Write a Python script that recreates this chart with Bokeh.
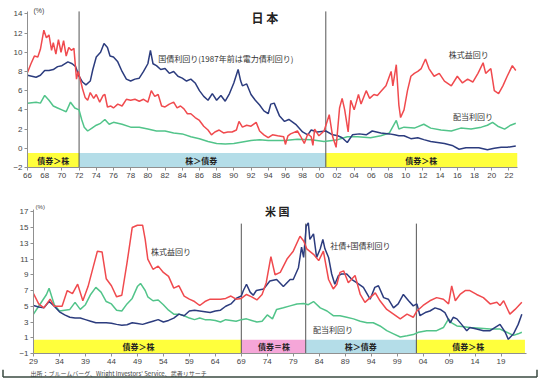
from bokeh.plotting import figure
from bokeh.models import FixedTicker, Label, ColumnDataSource, BoxAnnotation, Range1d
from bokeh.core.properties import value
from bokeh.embed import file_html
from bokeh.resources import INLINE

# ---------------- Japan ----------------
jp_red_x = [1966.0, 1966.4, 1966.8, 1967.2, 1967.5, 1967.9, 1968.2, 1968.5, 1968.8, 1969.0, 1969.3, 1969.6, 1969.9,
            1970.2, 1970.5, 1970.8, 1971.1, 1971.4, 1971.7, 1971.9, 1972.1, 1972.4, 1972.7, 1973.0, 1973.3, 1973.7,
            1974.0, 1974.4, 1974.8, 1975.0, 1975.3, 1975.7, 1976.0, 1976.5, 1977.0, 1977.5, 1978.0, 1978.5, 1979.0,
            1979.5, 1980.0, 1980.4, 1980.8, 1981.2, 1981.6, 1982.0, 1982.5, 1983.0, 1983.4, 1983.8, 1984.2, 1984.6,
            1985.0, 1985.5, 1986.0, 1986.5, 1987.0, 1987.4, 1987.8, 1988.3, 1988.8, 1989.3, 1989.8, 1990.3, 1990.6,
            1991.0, 1991.5, 1992.0, 1992.6, 1993.0, 1993.5, 1994.0, 1994.5, 1995.1, 1995.8, 1996.0, 1996.3, 1996.6,
            1997.4, 1997.8, 1998.2, 1998.6, 1999.0, 1999.2, 1999.4, 1999.9, 2000.5, 2001.1, 2001.5, 2001.9, 2002.3,
            2002.6, 2002.9, 2003.3, 2003.6, 2004.0, 2004.5, 2004.8, 2005.4, 2005.8, 2006.3, 2006.7, 2007.1, 2007.7,
            2008.3, 2008.5, 2008.9, 2009.2, 2009.4, 2009.8, 2010.2, 2010.6, 2011.0, 2011.4, 2011.8, 2012.3, 2012.7,
            2013.3, 2013.9, 2014.5, 2015.3, 2016.0, 2016.6, 2017.2, 2017.8, 2018.4, 2019.0, 2019.3, 2019.9, 2020.3,
            2020.8, 2021.3, 2021.8, 2022.4, 2022.8]
jp_red = [7.9, 8.8, 9.6, 9.5, 10.3, 12.3, 11.5, 11.8, 10.2, 11.0, 9.8, 11.3, 10.0,
          11.2, 9.6, 10.5, 10.2, 10.4, 7.2, 8.0, 7.3, 6.2, 5.3, 5.0, 5.8, 5.2,
          5.6, 4.8, 5.5, 5.6, 4.3, 4.4, 4.2, 4.6, 4.4, 5.1, 5.0, 5.1, 4.9,
          5.1, 4.8, 6.0, 5.4, 5.6, 4.4, 4.3, 4.6, 4.8, 4.2, 4.4, 4.1, 3.6,
          3.6, 3.2, 2.9, 2.3, 1.9, 1.4, 1.7, 1.9, 1.6, 1.7, 1.7, 1.9, 2.8,
          2.2, 2.4, 2.3, 2.7, 1.8, 1.4, 1.1, 1.4, 1.3, 1.2, 0.4, 1.3, 1.5,
          1.8, 1.2, 0.5, 1.5, 1.2, 0.3, 2.0, 1.3, 1.8, 3.5, 1.2, 0.1, 4.2,
          5.2, 4.0, 1.7, 5.0, 4.0, 5.6, 4.6, 6.0, 5.2, 5.6, 5.5, 5.9, 6.5,
          8.0, 6.5, 8.7, 4.5, 3.2, 4.0, 6.0, 7.5, 7.8, 8.0, 8.3, 9.3, 8.3,
          7.5, 7.8, 7.0, 6.5, 7.5, 6.8, 7.2, 6.9, 7.8, 8.9, 7.8, 8.3, 6.0,
          5.7, 6.5, 7.5, 8.6, 8.1]

jp_navy_x = [1966.0, 1966.5, 1967.0, 1967.5, 1968.0, 1968.5, 1969.0, 1969.5, 1970.0, 1970.7, 1971.2, 1971.6, 1972.0,
             1972.4, 1972.8, 1973.3, 1973.6, 1974.0, 1974.5, 1974.9, 1975.3, 1975.6, 1976.0, 1976.5, 1977.0, 1977.5,
             1978.0, 1978.5, 1979.0, 1979.5, 1980.0, 1980.3, 1980.6, 1981.0, 1981.5, 1982.0, 1982.5, 1983.0, 1983.5,
             1984.0, 1984.5, 1985.0, 1985.5, 1986.0, 1986.5, 1987.0, 1987.5, 1988.0, 1988.5, 1989.0, 1989.5, 1990.0,
             1990.5, 1990.8, 1991.0, 1991.5, 1992.0, 1992.5, 1993.0, 1993.5, 1994.0, 1994.3, 1994.7, 1995.3, 1995.9,
             1996.4, 1997.2, 1998.0, 1998.6, 1999.0, 1999.7, 2000.7, 2001.5, 2002.1, 2002.6, 2003.2, 2003.8, 2004.6,
             2005.4, 2006.1, 2007.1, 2008.1, 2008.7, 2009.2, 2009.8, 2010.6, 2011.4, 2012.1, 2012.9, 2013.7, 2014.5,
             2015.4, 2016.2, 2017.0, 2017.8, 2018.5, 2019.5, 2020.3, 2021.1, 2021.8, 2022.8]
jp_navy = [7.6, 7.5, 7.4, 7.6, 8.1, 8.1, 8.2, 8.5, 8.6, 9.0, 8.8, 8.5, 7.5,
           6.9, 6.6, 7.0, 8.2, 9.5, 10.0, 10.9, 10.5, 9.6, 9.5, 9.0, 8.0, 7.2,
           7.0, 7.2, 7.3, 8.0, 8.8, 10.2, 8.8, 8.6, 8.2, 8.3, 7.8, 8.0, 7.5,
           7.3, 7.0, 7.2, 6.8, 6.0, 5.4, 5.0, 5.7, 5.0, 5.5, 4.9, 5.7, 6.8,
           8.2, 7.0, 6.5, 6.7, 5.6, 5.0, 4.5, 3.9, 3.6, 4.6, 4.7, 3.4, 2.8,
           3.0, 2.5, 1.7, 1.4, 1.9, 1.7, 1.8, 1.4, 1.3, 1.1, 0.6, 1.4, 1.5,
           1.4, 1.8, 1.6, 1.5, 1.4, 1.3, 1.3, 1.0, 1.1, 0.9, 0.7, 0.6, 0.5,
           0.3, -0.1, 0.05, 0.05, 0.05, -0.15, 0.0, 0.1, 0.1, 0.25]

jp_green_x = [1966.0, 1967.0, 1967.5, 1968.0, 1968.5, 1969.0, 1969.5, 1970.0, 1970.5, 1971.0, 1971.5, 1972.0, 1972.3,
              1972.6, 1973.0, 1973.5, 1974.0, 1974.5, 1975.0, 1975.5, 1976.0, 1977.0, 1978.0, 1979.0, 1980.0, 1981.0,
              1982.0, 1983.0, 1984.0, 1985.0, 1986.0, 1987.0, 1988.0, 1989.0, 1990.0, 1991.0, 1992.0, 1993.0, 1994.0,
              1995.9, 1997.4, 1999.0, 2000.5, 2002.1, 2003.2, 2004.4, 2005.9, 2007.1, 2008.1, 2008.9, 2009.2, 2009.8,
              2011.0, 2012.1, 2012.9, 2014.1, 2015.3, 2016.4, 2017.6, 2018.8, 2019.5, 2020.1, 2020.7, 2021.5, 2022.2,
              2022.8]
jp_green = [4.7, 4.8, 4.7, 5.5, 5.0, 4.4, 4.2, 4.0, 3.8, 4.8, 4.2, 4.0, 3.0,
            2.2, 1.8, 2.1, 2.4, 2.6, 3.0, 2.5, 2.7, 2.5, 2.2, 2.2, 2.0, 1.8,
            1.8, 1.6, 1.5, 1.2, 1.0, 0.7, 0.5, 0.45, 0.5, 0.65, 0.8, 0.9, 0.8,
            0.8, 0.95, 0.9, 0.7, 0.9, 1.2, 1.2, 1.1, 1.3, 1.6, 2.9, 2.0, 2.2,
            2.1, 2.5, 2.1, 1.9, 1.8, 2.1, 2.0, 2.2, 2.4, 2.7, 2.3, 2.0, 2.4,
            2.6]

jp_band_start = [1966.0, 1972.0, 2000.7]
jp_band_end = [1972.0, 2000.7, 2023.0]
jp_band_color = ["#ffff3c", "#b4dde8", "#ffff3c"]
jp_band_text = ["債券＞株", "株＞債券", "債券＞株"]
jp_band_text_x = [1969.0, 1986.2, 2011.8]
jp_dividers = [1972.0, 2000.7]

jp_xticks = list(range(1966, 2023, 2))
jp_xtick_labels = ["66", "68", "70", "72", "74", "76", "78", "80", "82", "84", "86", "88", "90", "92", "94",
                   "96", "98", "00", "02", "04", "06", "08", "10", "12", "14", "16", "18", "20", "22"]
jp_yticks = [-2, 0, 2, 4, 6, 8, 10, 12, 14]

# ---------------- United States ----------------
us_red_x = [1929.0, 1930.0, 1931.0, 1932.2, 1933.0, 1934.5, 1935.5, 1936.5, 1937.5, 1938.5, 1939.5, 1940.5, 1941.3,
            1942.2, 1943.0, 1944.0, 1945.0, 1946.0, 1947.0, 1948.0, 1949.0, 1950.0, 1950.5, 1951.0, 1952.0, 1953.0,
            1954.0, 1955.0, 1956.0, 1957.0, 1958.0, 1959.0, 1960.0, 1961.0, 1962.0, 1963.0, 1964.0, 1965.0, 1966.0,
            1967.0, 1968.0, 1969.0, 1970.0, 1971.0, 1972.0, 1973.0, 1973.8, 1974.7, 1975.5, 1976.5, 1977.8, 1979.0,
            1980.3, 1981.0, 1981.6, 1982.9, 1983.9, 1984.8, 1985.8, 1986.7, 1987.4, 1988.0, 1988.7, 1989.6, 1990.9,
            1991.9, 1992.8, 1993.8, 1994.8, 1995.7, 1997.0, 1998.3, 1999.6, 2000.9, 2002.1, 2002.8, 2004.0, 2005.3,
            2006.6, 2007.9, 2008.9, 2009.5, 2010.2, 2011.1, 2012.1, 2013.0, 2014.3, 2015.6, 2016.9, 2018.2, 2018.8,
            2019.5, 2020.7, 2021.7, 2023.0]
us_red = [6.6, 5.3, 4.8, 5.9, 5.0, 5.0, 7.0, 6.6, 7.8, 5.7, 7.5, 10.0, 12.0,
          11.9, 8.5, 7.6, 6.2, 6.4, 10.5, 15.0, 15.3, 15.3, 13.5, 11.0, 9.7, 10.1,
          9.3, 8.8, 7.3, 7.6, 6.3, 5.9, 5.6, 5.1, 5.6, 5.9, 5.9, 5.9, 6.0,
          6.3, 5.9, 6.0, 6.5, 6.2, 5.8, 6.5, 8.0, 11.3, 9.0, 9.3, 11.0, 12.0,
          13.9, 13.3, 12.3, 11.6, 10.8, 12.0, 8.4, 7.2, 7.8, 9.3, 9.5, 8.0, 8.9,
          6.5, 5.5, 6.1, 6.7, 5.7, 4.6, 4.0, 3.4, 4.0, 3.6, 4.4, 5.1, 5.7,
          6.1, 5.9, 5.3, 7.6, 5.7, 6.5, 7.0, 7.0, 6.5, 6.1, 5.3, 5.5, 5.1,
          5.7, 4.0, 4.6, 5.5]

us_navy_x = [1929.0, 1930.0, 1931.0, 1932.0, 1933.0, 1934.0, 1935.0, 1936.0, 1937.0, 1938.0, 1939.0, 1940.0, 1941.0,
             1942.0, 1943.0, 1944.0, 1945.0, 1946.0, 1947.0, 1948.0, 1949.0, 1950.0, 1951.0, 1952.0, 1953.0, 1954.0,
             1955.0, 1956.0, 1957.0, 1958.0, 1959.0, 1960.0, 1961.0, 1962.0, 1963.0, 1964.0, 1965.0, 1966.0, 1967.0,
             1968.0, 1969.0, 1969.4, 1970.0, 1970.7, 1971.3, 1971.9, 1973.3, 1974.5, 1975.8, 1977.1, 1978.4, 1979.0,
             1980.0, 1980.6, 1981.0, 1981.5, 1981.9, 1982.2, 1982.9, 1983.5, 1984.2, 1984.7, 1985.1, 1985.8, 1986.4,
             1987.0, 1987.7, 1988.3, 1989.3, 1990.3, 1991.2, 1992.5, 1993.8, 1994.7, 1995.4, 1996.4, 1997.3, 1998.3,
             1999.2, 2000.2, 2001.2, 2002.1, 2002.8, 2003.4, 2004.4, 2005.3, 2006.3, 2007.3, 2008.2, 2009.2, 2009.8,
             2010.5, 2011.4, 2012.4, 2013.0, 2014.3, 2015.6, 2016.9, 2017.8, 2018.8, 2019.8, 2020.4, 2021.4, 2022.3,
             2023.0]
us_navy = [5.1, 4.9, 4.8, 5.6, 5.0, 4.3, 3.9, 3.6, 3.5, 3.5, 3.3, 3.1, 2.9,
           2.9, 2.9, 2.85, 2.7, 2.6, 2.65, 2.9, 2.8, 2.7, 2.9, 3.1, 3.3, 3.0,
           3.2, 3.5, 4.0, 3.8, 4.4, 4.5, 4.4, 4.3, 4.2, 4.4, 4.5, 5.0, 5.3,
           6.0, 6.3, 7.0, 7.8, 6.8, 6.4, 7.0, 7.2, 8.2, 8.4, 7.5, 8.4, 8.4,
           9.9, 12.5, 11.2, 15.2, 15.6, 13.5, 14.2, 11.2, 12.3, 13.5, 12.3, 11.2, 9.1,
           7.8, 8.9, 9.1, 9.1, 8.4, 8.0, 7.4, 5.9, 7.4, 7.6, 6.1, 5.9, 4.8,
           5.3, 6.5, 5.7, 5.05, 5.3, 3.8, 4.2, 4.4, 4.8, 4.6, 4.2, 2.9, 3.6,
           3.4, 2.7, 1.9, 2.3, 2.1, 1.9, 1.9, 2.3, 2.7, 1.7, 0.8, 1.5, 2.7,
           4.0]

us_green_x = [1929.0, 1930.0, 1931.5, 1932.0, 1933.0, 1934.0, 1935.0, 1936.0, 1937.0, 1938.0, 1939.0, 1940.0, 1941.0,
              1942.0, 1943.0, 1944.0, 1945.0, 1946.0, 1947.0, 1948.0, 1949.0, 1949.6, 1950.5, 1951.0, 1952.0, 1953.0,
              1954.0, 1955.0, 1956.0, 1957.0, 1958.0, 1959.0, 1960.0, 1961.0, 1962.0, 1963.0, 1964.0, 1965.0, 1966.0,
              1967.0, 1968.0, 1969.0, 1970.0, 1971.0, 1972.0, 1973.0, 1974.0, 1975.0, 1975.8, 1977.1, 1978.4, 1979.7,
              1981.0, 1981.9, 1982.9, 1984.2, 1985.5, 1986.7, 1988.0, 1989.3, 1990.6, 1991.9, 1993.2, 1994.4, 1995.7,
              1997.0, 1998.3, 1999.6, 2000.9, 2002.1, 2003.1, 2004.7, 2006.6, 2007.9, 2008.9, 2009.5, 2010.5, 2011.8,
              2013.0, 2015.0, 2016.9, 2018.8, 2020.1, 2021.4, 2022.3, 2023.0]
us_green = [4.0, 5.0, 6.5, 7.3, 5.2, 4.4, 4.5, 4.6, 5.5, 4.6, 5.2, 6.5, 7.4,
            6.8, 5.6, 5.3, 4.5, 4.4, 5.3, 6.0, 7.5, 7.9, 7.0, 6.2, 5.7, 5.8,
            5.2, 4.5, 4.0, 4.0, 3.8, 3.5, 3.3, 3.5, 3.3, 3.3, 3.2, 3.0, 3.3,
            3.2, 3.1, 3.3, 3.4, 3.2, 3.0, 3.1, 3.9, 3.4, 4.6, 4.8, 5.05, 5.3,
            5.35, 5.2, 5.6, 4.8, 4.4, 3.8, 3.8, 3.6, 3.4, 3.1, 2.9, 2.9, 2.5,
            1.9, 1.5, 1.1, 1.25, 1.4, 1.7, 1.9, 1.9, 2.3, 3.4, 2.9, 2.5, 2.4,
            2.3, 2.2, 2.1, 2.1, 1.7, 1.3, 1.5, 1.7]

us_band_start = [1929.0, 1969.0, 1981.4, 2002.7]
us_band_end = [1969.0, 1981.4, 2002.7, 2023.6]
us_band_color = ["#ffff3c", "#f5a6d8", "#b4dde8", "#ffff3c"]
us_band_text = ["債券＞株", "債券＝株", "株＞債券", "債券＞株"]
us_band_text_x = [1949.2, 1975.3, 1992.0, 2012.7]
us_dividers = [1969.0, 1981.4, 2002.7]

us_xticks = list(range(1929, 2020, 5))
us_xtick_labels = ["29", "34", "39", "44", "49", "54", "59", "64", "69", "74", "79", "84", "89", "94", "99",
                   "04", "09", "14", "19"]
us_yticks = [-1, 1, 3, 5, 7, 9, 11, 13, 15, 17]

source_text = ["出所：ブルームバーグ、Wright Investors' Service、武者リサーチ"]

RED = "#f04a4e"
NAVY = "#2c3c7e"
GREEN = "#52c48a"
JPFONT = "Noto Sans CJK JP"
NUMFONT = "Liberation Sans"
FRAME = "#3a4a40"


def style(p, xticks, xlabels, yticks, ybounds):
    p.outline_line_color = None
    p.xgrid.visible = False
    p.ygrid.visible = False
    p.background_fill_color = "white"
    p.border_fill_color = "white"
    p.xaxis.ticker = FixedTicker(ticks=xticks)
    p.xaxis.major_label_overrides = {t: l for t, l in zip(xticks, xlabels)}
    p.yaxis.ticker = FixedTicker(ticks=yticks)
    p.yaxis.bounds = ybounds
    for ax in (p.xaxis, p.yaxis):
        ax.axis_line_color = "#909090"
        ax.major_tick_line_color = "#909090"
        ax.major_tick_out = 3
        ax.major_tick_in = 0
        ax.minor_tick_line_color = None
        ax.major_label_text_font = NUMFONT
        ax.major_label_text_font_size = "8px"
        ax.major_label_text_color = "#444444"
        ax.major_label_standoff = 2


def add_bands(p, starts, ends, colors, texts, text_x, y0, y1):
    src = ColumnDataSource(dict(left=starts, right=ends, color=colors))
    p.quad(left="left", right="right", bottom=y0, top=y1, fill_color="color", line_color=None, source=src)
    tsrc = ColumnDataSource(dict(x=text_x, y=[(y0 + y1) / 2] * len(text_x), t=texts))
    p.text(x="x", y="y", text="t", source=tsrc, text_font=value(JPFONT), text_font_size="8px",
           text_font_style="bold", text_color="#222222", text_align="center", text_baseline="middle")


def add_dividers(p, xs, y0, y1):
    p.segment(x0=xs, x1=xs, y0=[y0] * len(xs), y1=[y1] * len(xs), line_color="#555555", line_width=1)


def label(p, x, y, text, size="8px", bold=False, align="left", font=JPFONT, color="#333333"):
    p.add_layout(Label(x=x, y=y, text=text, text_font=font, text_font_size=size,
                       text_font_style="bold" if bold else "normal", text_color=color,
                       text_align=align, text_baseline="middle"))


def frame_box(p, left, right, top, bottom, **kw):
    p.add_layout(BoxAnnotation(left=left, right=right, top=top, bottom=bottom, left_units="canvas",
                               right_units="canvas", top_units="canvas", bottom_units="canvas", **kw))


# ---- top figure (Japan)
p1 = figure(width=540, height=190, x_range=(1966, 2023), y_range=(-2, 14.865),
            output_backend="svg", toolbar_location=None,
            min_border_left=27, min_border_right=23, min_border_top=5, min_border_bottom=23)
style(p1, jp_xticks, jp_xtick_labels, jp_yticks, (-2, 14.2))
add_bands(p1, jp_band_start, jp_band_end, jp_band_color, jp_band_text, jp_band_text_x, -2, -0.5)
add_dividers(p1, jp_dividers, -2, 14.25)
p1.line(jp_green_x, jp_green, line_color=GREEN, line_width=1.5)
p1.line(jp_navy_x, jp_navy, line_color=NAVY, line_width=1.5)
p1.line(jp_red_x, jp_red, line_color=RED, line_width=1.5)
label(p1, 1993.6, 13.6, "日 本", size="12px", bold=True, align="center", color="#222222")
label(p1, 1966.7, 14.34, "(%)", size="7px", font=NUMFONT, color="#444444")
label(p1, 1981.2, 9.35, "国債利回り(1987年前は電力債利回り)")
label(p1, 2015.0, 9.75, "株式益回り")
label(p1, 2015.5, 3.3, "配当利回り")
frame_box(p1, 0, 540, 0, 2.5, fill_color="#2c5a3c", fill_alpha=1, line_color=None)
frame_box(p1, 2.5, 536.5, 2, 400, fill_alpha=0, line_color=FRAME, line_width=1.5)

# ---- bottom figure (US)
p2 = figure(width=540, height=179, x_range=(1929, 2023.9), y_range=(-1, 18.31),
            output_backend="svg", toolbar_location=None,
            min_border_left=33, min_border_right=14, min_border_top=11, min_border_bottom=16)
style(p2, us_xticks, us_xtick_labels, us_yticks, (-1, 17.3))
add_bands(p2, us_band_start, us_band_end, us_band_color, us_band_text, us_band_text_x, -1, 0.75)
add_dividers(p2, us_dividers, -1, 15.5)
p2.line(us_green_x, us_green, line_color=GREEN, line_width=1.5)
p2.line(us_navy_x, us_navy, line_color=NAVY, line_width=1.5)
p2.line(us_red_x, us_red, line_color=RED, line_width=1.5)
label(p2, 1975.9, 17.13, "米 国", size="11px", bold=True, align="center", color="#222222")
label(p2, 1929.4, 17.67, "(%)", size="6px", font=NUMFONT, color="#444444")
label(p2, 1951.6, 12.0, "株式益回り")
label(p2, 1986.1, 12.7, "社債+国債利回り")
label(p2, 1982.8, 2.1, "配当利回り")
frame_box(p2, 2.5, 536.5, -20, 400, fill_alpha=0, line_color=FRAME, line_width=1.5)

# ---- source strip
p3 = figure(width=540, height=15, x_range=Range1d(0, 540), y_range=Range1d(15, 0),
            x_axis_type=None, y_axis_type=None, output_backend="svg", toolbar_location=None,
            min_border_left=0, min_border_right=0, min_border_top=0, min_border_bottom=0)
p3.outline_line_color = None
p3.xgrid.visible = False
p3.ygrid.visible = False
p3.background_fill_color = "white"
p3.border_fill_color = "white"
p3.text(x=[30], y=[3.5], text=source_text, text_font=value(JPFONT), text_font_size="6px",
        text_color="#444444", text_baseline="middle")
p3.segment(x0=[2.5, 536.5, 2.5], x1=[2.5, 536.5, 536.5], y0=[0, 0, 7.5], y1=[7.5, 7.5, 7.5],
           line_color=FRAME, line_width=1.5)

page_template = """
{% block postamble %}
<style>
  body { display: flex; flex-direction: column; align-items: flex-start; line-height: 0; }
  body > div { flex: none; }
</style>
{% endblock %}
"""

open("out.html", "w").write(file_html([p1, p2, p3], INLINE, template=page_template))
